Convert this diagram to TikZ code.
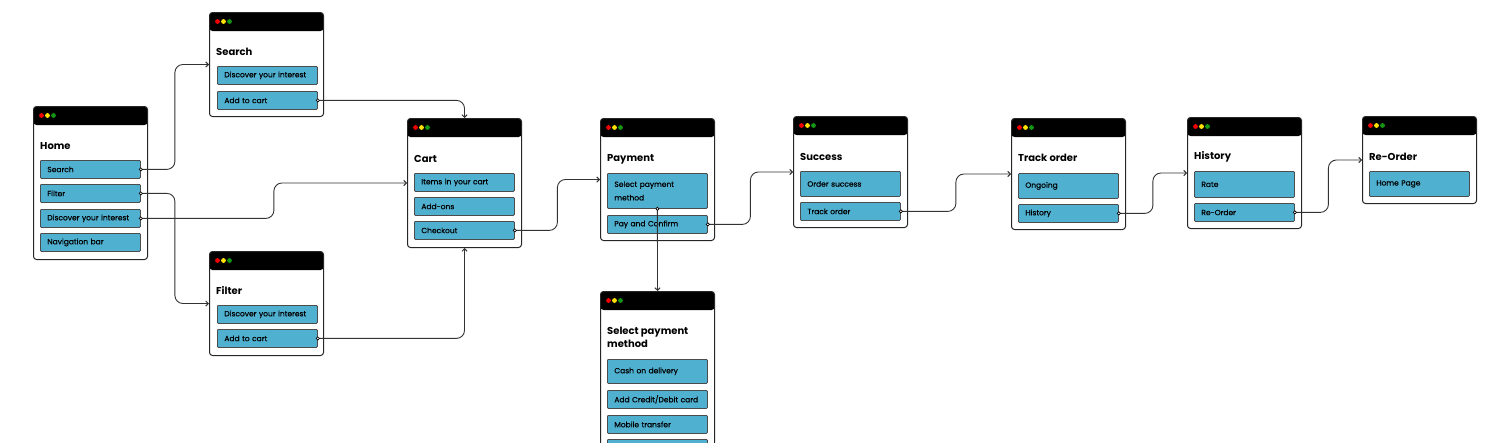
\documentclass[tikz,border=0pt]{standalone}
\usepackage{fontspec}
\setmainfont{Poppins}
\newfontfamily\itemfont[FakeBold=0.5]{Poppins}
\usetikzlibrary{arrows.meta,calc}
\tikzset{>={Straight Barb[scale=.8]}}
\definecolor{itemblue}{RGB}{80,176,208}
\definecolor{lampred}{RGB}{240,0,0}
\definecolor{lampyellow}{RGB}{255,225,0}
\definecolor{lampgreen}{RGB}{20,150,20}
\tikzset{
  screen/.style={draw=black!85, line width=1pt, rounded corners=3pt, fill=white,
    anchor=north west, minimum width=114pt, inner sep=0pt,
    path picture={
      \fill[black] (path picture bounding box.north west) rectangle ([yshift=-18.5pt]path picture bounding box.north east);
      \fill[lampred] ([xshift=8pt,yshift=-9pt]path picture bounding box.north west) circle (2.4pt);
      \fill[lampyellow] ([xshift=14pt,yshift=-9pt]path picture bounding box.north west) circle (2.4pt);
      \fill[lampgreen] ([xshift=20pt,yshift=-9pt]path picture bounding box.north west) circle (2.4pt);
    }},
  screentitle/.style={anchor=west, inner sep=0pt, align=left, font=\fontsize{10}{13.5}\selectfont\bfseries},
  item/.style={draw=black!70, line width=.8pt, fill=itemblue, rounded corners=1pt, anchor=north west,
    text width=86pt, inner xsep=7pt, inner ysep=0pt, align=left, minimum height=18pt,
    font=\itemfont\fontsize{7.5}{13.5}\selectfont},
  link/.style={->, line width=.9pt, draw=black!80, rounded corners=8pt},
  elbow/.style={to path={-| ($(\tikztostart)!.5!(\tikztotarget)$) |- (\tikztotarget)}},
  dot/.style={draw=black, fill=white, line width=.7pt}
}

\begin{document}
\begin{tikzpicture}[x=1pt, y=-1pt]
  \useasboundingbox (0,0) rectangle (1504,442);
  % screens
  \node[screen, minimum height=153pt] (home) at (33,106) {};
  \node[screen, minimum height=104pt] (search) at (209,12) {};
  \node[screen, minimum height=104pt] (filter) at (209,251) {};
  \node[screen, minimum height=129pt] (cart) at (407,118) {};
  \node[screen, minimum height=122pt] (payment) at (600,118) {};
  \node[screen, minimum height=200pt] (method) at (600,291) {};
  \node[screen, minimum height=111pt] (success) at (793,116) {};
  \node[screen, minimum height=111pt] (track) at (1011,118) {};
  \node[screen, minimum height=111pt] (history) at (1187,117) {};
  \node[screen, minimum height=87pt] (reorder) at (1362,116) {};
  % titles
  \node[screentitle] (home-t) at (40,146) {Home};
  \node[screentitle] (search-t) at (216,52) {Search};
  \node[screentitle] (filter-t) at (216,291) {Filter};
  \node[screentitle] (cart-t) at (414,159) {Cart};
  \node[screentitle] (payment-t) at (607,159) {Payment};
  \node[screentitle] (method-t) at (607,337.5) {Select payment\\method};
  \node[screentitle] (success-t) at (800,157) {Success};
  \node[screentitle] (track-t) at (1018,158) {Track order};
  \node[screentitle] (history-t) at (1194,157) {History};
  \node[screentitle] (reorder-t) at (1369,157) {Re-Order};
  % items
  \node[item] (home-search) at (40,160) {Search};
  \node[item] (home-filter) at (40,184) {Filter};
  \node[item] (home-discover) at (40,209) {Discover your interest};
  \node[item] (home-nav) at (40,233) {Navigation bar};
  \node[item] (search-discover) at (217,66) {Discover your interest};
  \node[item] (search-cart) at (217,91) {Add to cart};
  \node[item] (filter-discover) at (217,305) {Discover your interest};
  \node[item] (filter-cart) at (217,329) {Add to cart};
  \node[item] (cart-items) at (414,173) {Items in your cart};
  \node[item] (cart-addons) at (414,197) {Add-ons};
  \node[item] (cart-checkout) at (414,221) {Checkout};
  \node[item, minimum height=35pt] (pay-method) at (607,173) {Select payment\\method};
  \node[item] (pay-confirm) at (607,215) {Pay and Confirm};
  \node[item, minimum height=24pt] (method-cash) at (607,359) {Cash on delivery};
  \node[item] (method-card) at (607,390) {Add Credit/Debit card};
  \node[item] (method-mobile) at (607,415) {Mobile transfer};
  \node[item] (method-more) at (607,439) {};
  \node[item, minimum height=25pt] (success-order) at (800,171) {Order success};
  \node[item] (success-track) at (800,202) {Track order};
  \node[item, minimum height=25pt] (track-ongoing) at (1018,173) {Ongoing};
  \node[item] (track-history) at (1018,204) {History};
  \node[item, minimum height=26pt] (history-rate) at (1194,171) {Rate};
  \node[item] (history-reorder) at (1194,203) {Re-Order};
  \node[item, minimum height=25pt] (reorder-home) at (1369,171) {Home Page};
  % links
  \draw[link] (home-search.east) to[elbow] (search.west);
  \draw[link] (home-filter.east) to[elbow] (filter.west);
  \draw[link] (home-discover.east) to[elbow] (cart.west);
  \draw[link] (search-cart.east) -| (cart.north);
  \draw[link] (filter-cart.east) -| (cart.south);
  \draw[link] (cart-checkout.east) to[elbow] (payment.west);
  \draw[link] (pay-method.south) -- (method.north);
  \draw[link] (pay-confirm.east) to[elbow] (success.west);
  \draw[link] (success-track.east) to[elbow] (track.west);
  \draw[link] (track-history.east) to[elbow] (history.west);
  \draw[link] (history-reorder.east) to[elbow] (reorder.west);
  % start dots
  \foreach \n in {home-search, home-filter, home-discover, search-cart, filter-cart,
      cart-checkout, pay-confirm, success-track, track-history, history-reorder}
    \draw[dot] (\n.east) circle (1.6pt);
  \draw[dot] (pay-method.south) circle (1.6pt);
\end{tikzpicture}
\end{document}
